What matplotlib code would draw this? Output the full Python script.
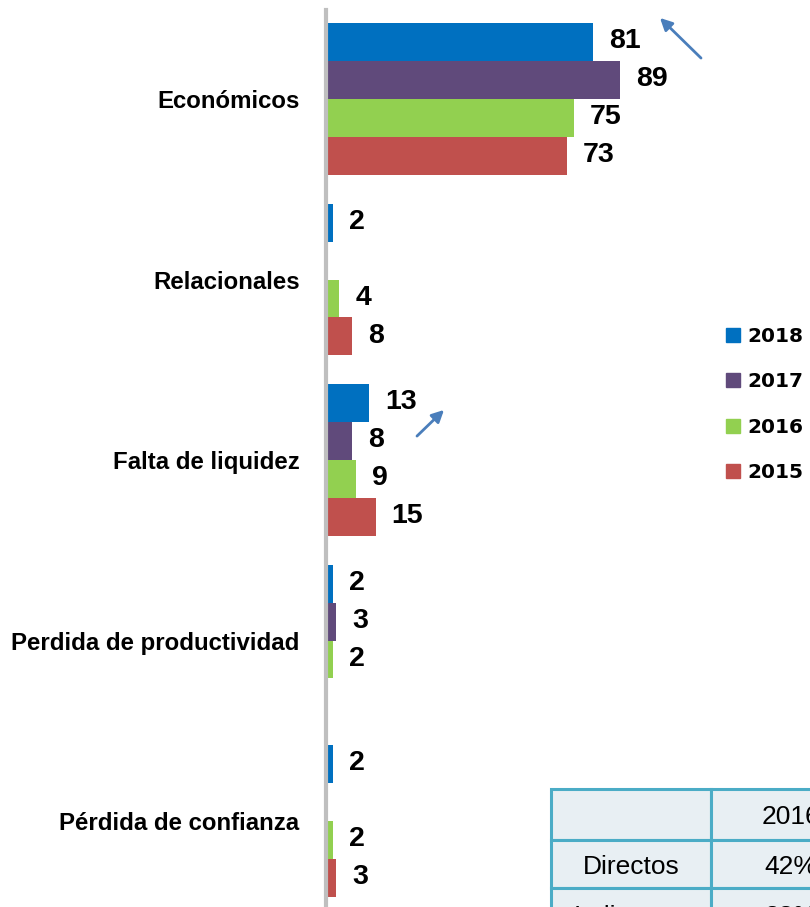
import matplotlib
matplotlib.use('Agg')
import matplotlib.pyplot as plt
import numpy as np
from matplotlib.patches import Rectangle, Patch

# --- Datos ---
categorias = ['Económicos', 'Relacionales', 'Falta de liquidez',
              'Perdida de productividad', 'Pérdida de confianza']
anios = ['2018', '2017', '2016', '2015']
v2018 = [81, 2, 13, 2, 2]
v2017 = [89, None, 8, 3, None]
v2016 = [75, 4, 9, 2, 2]
v2015 = [73, 8, 15, None, 3]
colores = ['#0070c0', '#604a7b', '#92d050', '#c0504d']

tabla_cabecera = ['', '2016']
tabla_filas = [['Directos', '42%'], ['Indirectos', '38%']]

W, H = 810, 907
fig = plt.figure(figsize=(W / 100, H / 100), dpi=100)

def fx(px):
    return px / W

def fy(py):
    return 1 - py / H

ax = fig.add_axes([fx(326), 0, fx(484), 897 / H])
ax.patch.set_visible(False)

alto = 0.21
desp = np.array([-1.5, -0.5, 0.5, 1.5]) * alto
y = np.arange(len(categorias))

for k, serie in enumerate([v2018, v2017, v2016, v2015]):
    vals = [0 if v is None else v for v in serie]
    ax.barh(y + desp[k], vals, height=alto, color=colores[k])
    for i, v in enumerate(serie):
        if v is None:
            continue
        ax.annotate(str(v), (v, y[i] + desp[k]), xytext=(11.5, 0.5),
                    textcoords='offset points', va='center', ha='left',
                    fontsize=20.5, fontweight='bold', family='Liberation Sans')

ax.set_xlim(0, 484 / 3.3)
ax.set_ylim(4 + 86 / 180.5, -89 / 180.5)
for s in ['top', 'right', 'bottom']:
    ax.spines[s].set_visible(False)
ax.spines['left'].set_color('#bfbfbf')
ax.spines['left'].set_linewidth(3)
ax.set_xticks([])
ax.set_yticks(y)
ax.set_yticklabels(categorias, fontsize=17.3, fontweight='bold',
                   family='Liberation Sans')
ax.tick_params(axis='y', length=0, pad=19)

# Leyenda
manejadores = [Patch(color=c) for c in colores]
fig.legend(manejadores, anios, loc='center left',
           bbox_to_anchor=(fx(726), fy(404.5)), frameon=False,
           borderpad=0, borderaxespad=0, handlelength=0.7,
           handleheight=0.7, handletextpad=0.35, labelspacing=1.32,
           prop={'family': 'DejaVu Sans', 'weight': 'bold', 'size': 14.5})

# Flechas
color_flecha = '#4a7ebb'
for (x0, y0), (x1, y1) in [((703, 60), (658, 16)), ((415, 438), (446, 408))]:
    ax.annotate('', xy=(x1, H - y1), xytext=(x0, H - y0),
                xycoords='figure pixels', textcoords='figure pixels',
                arrowprops=dict(arrowstyle='-|>', color=color_flecha,
                                lw=2, mutation_scale=18))

# Tabla (recortada por el borde, como en la imagen original)
col_x = [551, 711, 871]
fil_y = [789, 840, 888, 940]
filas = [tabla_cabecera] + tabla_filas
for r, fila in enumerate(filas):
    for c, txt in enumerate(fila):
        x0, x1 = col_x[c], col_x[c + 1]
        y0, y1 = fil_y[r], fil_y[r + 1]
        rect = Rectangle((fx(x0), fy(y1)), fx(x1 - x0), (y1 - y0) / H,
                         transform=fig.transFigure, facecolor='#e8eff3',
                         edgecolor='#4bacc6', linewidth=2.2)
        fig.add_artist(rect)
        fig.text(fx((x0 + x1) / 2), fy((y0 + y1) / 2 + 3), txt,
                 ha='center', va='center', fontsize=19,
                 family='Liberation Sans')

fig.savefig('out.png', dpi=100)
